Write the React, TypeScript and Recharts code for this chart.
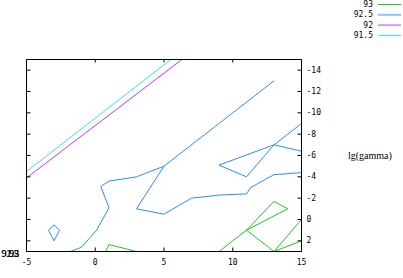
import { LineChart, Line, XAxis, YAxis, Legend } from "recharts";

// contour levels, in legend order
const levels = ["93", "92.5", "92", "91.5"];
const levelColors = ["#22c422", "#2a8cff", "#c433ff", "#2ee6e6"];

const xTicks = [-5, 0, 5, 10, 15];
const yTicks = [-14, -12, -10, -8, -6, -4, -2, 0, 2];

// contour paths, x = lg(C), y = lg(gamma); y: null breaks the path
const c93 = [
  { x: 9, y: 3 }, { x: 11, y: 1 }, { x: 13, y: -1.7 }, { x: 14, y: -1 },
  { x: 11, y: 1 }, { x: 13, y: 3 }, { x: 15, y: 0 },
  { x: 15, y: null },
  { x: 13, y: 3 }, { x: 15, y: 2 },
  { x: 3, y: null },
  { x: 0.75, y: 3 }, { x: 1, y: 2.35 }, { x: 3, y: 3 },
];

const c925 = [
  { x: 13, y: -13 }, { x: 5, y: -5 }, { x: 3, y: -4 }, { x: 1, y: -3.6 },
  { x: 0.4, y: -3.1 }, { x: 1, y: -1.1 }, { x: 0.1, y: 1 }, { x: -1, y: 2.6 },
  { x: -1.8, y: 3 },
  { x: -1.8, y: null },
  { x: 5, y: -5 }, { x: 3, y: -1 }, { x: 5, y: -0.5 }, { x: 7, y: -2 },
  { x: 9.1, y: -2.3 }, { x: 11, y: -2.4 }, { x: 11.3, y: -3 }, { x: 13, y: -4.2 },
  { x: 15, y: -4.4 },
  { x: 15, y: null },
  { x: 15, y: -9 }, { x: 13, y: -7 }, { x: 11, y: -4 }, { x: 9, y: -5.1 },
  { x: 13, y: -7 }, { x: 15, y: -6.4 },
  { x: 15, y: null },
  { x: -3.4, y: 1 }, { x: -3, y: 0.5 }, { x: -2.6, y: 1 }, { x: -3, y: 2 },
  { x: -3.4, y: 1 },
];

const c92 = [{ x: -5, y: -3.9 }, { x: 6.3, y: -15 }];
const c915 = [{ x: -5, y: -4.5 }, { x: 5.5, y: -15 }];

const series = [c93, c925, c92, c915];

const mono = "DejaVu Sans Mono, monospace";
const serif = "'Liberation Serif', 'DejaVu Serif', serif";

// gnuplot style: tick marks point into the plot
const BottomTick = (props: any) => {
  const { x, y, payload } = props;
  return (
    <g>
      <line x1={x} y1={y} x2={x} y2={y - 4} stroke="#000" />
      <text x={x} y={y + 11} textAnchor="middle" dominantBaseline="central" style={{ fontFamily: mono, fontSize: 8 }} fill="#000">
        {payload.value}
      </text>
    </g>
  );
};

const TopTick = (props: any) => {
  const { x, y } = props;
  return <line x1={x} y1={y} x2={x} y2={y + 3} stroke="#000" />;
};

const LeftTick = (props: any) => {
  const { x, y } = props;
  return <line x1={x} y1={y} x2={x + 4} y2={y} stroke="#000" />;
};

const RightTick = (props: any) => {
  const { x, y, payload } = props;
  return (
    <g>
      <line x1={x - 4} y1={y} x2={x} y2={y} stroke="#000" />
      <text x={x + 5} y={y} textAnchor="start" dominantBaseline="central" style={{ fontFamily: mono, fontSize: 8 }} fill="#000">
        {payload.value}
      </text>
    </g>
  );
};

const renderLegend = (props: any) => {
  const items = [...(props.payload ?? [])].sort(
    (a: any, b: any) => levels.indexOf(a.value) - levels.indexOf(b.value)
  );
  return (
    <svg width={73} height={45} style={{ display: "block" }}>
      {items.map((it: any, i: number) => {
        const y = 4.5 + i * 10.3;
        const thick = it.value === "92.5";
        return (
          <g key={it.value}>
            <text x={43} y={y} textAnchor="end" dominantBaseline="central" style={{ fontFamily: mono, fontSize: 8 }} fill="#000">
              {it.value}
            </text>
            <line x1={48} x2={71} y1={y} y2={y} stroke={thick ? "#8cc4ff" : it.color} strokeWidth={thick ? 2 : 1} />
          </g>
        );
      })}
    </svg>
  );
};

export default function App() {
  return (
    <div style={{ width: 403, height: 278, background: "#fff" }}>
      <style>{`body{margin:0}`}</style>
      <LineChart width={403} height={278} margin={{ top: 58.5, right: 100.5, bottom: 25.5, left: 25.5 }}>
        <XAxis
          xAxisId="b"
          dataKey="x"
          type="number"
          domain={[-5, 15]}
          allowDataOverflow
          ticks={xTicks}
          interval={0}
          height={1}
          stroke="#000"
          tickLine={false}
          tickSize={0}
          tickMargin={0}
          tick={<BottomTick />}
        />
        <XAxis
          xAxisId="t"
          orientation="top"
          dataKey="x"
          type="number"
          domain={[-5, 15]}
          allowDataOverflow
          ticks={xTicks}
          interval={0}
          height={1}
          stroke="#000"
          tickLine={false}
          tickSize={0}
          tickMargin={0}
          tick={<TopTick />}
        />
        <YAxis
          yAxisId="l"
          type="number"
          domain={[-15, 3]}
          reversed
          allowDataOverflow
          ticks={yTicks}
          interval={0}
          width={1}
          stroke="#000"
          tickLine={false}
          tickSize={0}
          tickMargin={0}
          tick={<LeftTick />}
        />
        <YAxis
          yAxisId="r"
          orientation="right"
          type="number"
          domain={[-15, 3]}
          reversed
          allowDataOverflow
          ticks={yTicks}
          interval={0}
          width={1}
          stroke="#000"
          tickLine={false}
          tickSize={0}
          tickMargin={0}
          tick={<RightTick />}
        />
        <Legend
          content={renderLegend}
          layout="horizontal"
          verticalAlign="middle"
          align="center"
          wrapperStyle={{ top: 0, left: 330, width: 73, height: 45 }}
        />
        {series.map((d, i) => (
          <Line
            key={levels[i]}
            name={levels[i]}
            xAxisId="b"
            yAxisId="r"
            data={d}
            dataKey="y"
            type="linear"
            stroke={levelColors[i]}
            strokeWidth={1}
            dot={false}
            activeDot={false}
            connectNulls={false}
            isAnimationActive={false}
          />
        ))}
        <text x={348} y={159} style={{ fontFamily: serif, fontSize: 10 }} fill="#000">
          lg(gamma)
        </text>
        {levels.map((l) => (
          <text key={l} x={19} y={256.5} textAnchor="end" style={{ fontFamily: serif, fontSize: 10 }} fill="#000">
            {l}
          </text>
        ))}
      </LineChart>
    </div>
  );
}
